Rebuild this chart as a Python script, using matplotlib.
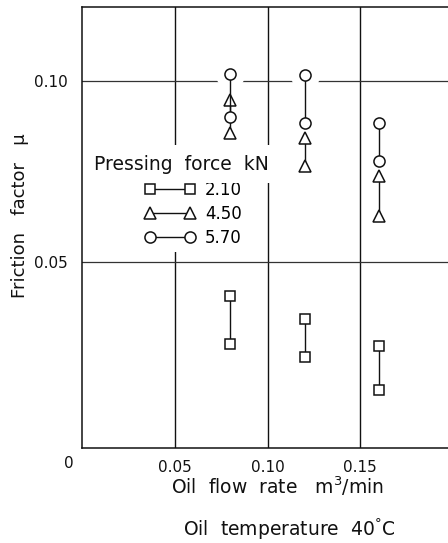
import matplotlib
matplotlib.use("Agg")
import matplotlib.pyplot as plt
from matplotlib.transforms import offset_copy

# Oil flow rate (m^3/min) at which each pair of measurements was taken
flow_rate = [0.08, 0.12, 0.16]

# Pressing force levels (kN) and their marker shapes
forces = ["2.10", "4.50", "5.70"]
markers = ["s", "^", "o"]
marker_sizes = [6.5, 8.5, 8.0]

# Friction factor range (upper / lower value) per flow rate
mu_high = {
    "2.10": [0.0407, 0.0343, 0.0269],
    "4.50": [0.0949, 0.0843, 0.0737],
    "5.70": [0.1020, 0.1016, 0.0885],
}
mu_low = {
    "2.10": [0.0274, 0.0238, 0.0148],
    "4.50": [0.0856, 0.0765, 0.0627],
    "5.70": [0.0901, 0.0885, 0.0778],
}

x_ticks = [0.05, 0.10, 0.15]
x_tick_labels = ["0.05", "0.10", "0.15"]
y_ticks = [0.05, 0.10]
y_tick_labels = ["0.05", "0.10"]

W, H, DPI = 448, 543, 100
fig = plt.figure(figsize=(W / DPI, H / DPI), dpi=DPI)
plt.rcParams["font.family"] = ["DejaVu Sans"]

ink = "#111111"
fs = 11

# axes box in pixels: left 82, right 453 (past the page edge), top 6.5, bottom 447.5
ax = fig.add_axes([82 / W, 1 - 447.5 / H, (453 - 82) / W, (447.5 - 6.5) / H])
ax.set_xlim(0, 0.2)
ax.set_ylim(-0.0012, 0.1206)

for side in ["left", "bottom", "top", "right"]:
    ax.spines[side].set_color(ink)
    ax.spines[side].set_linewidth(1.1)

ax.set_xticks(x_ticks)
ax.set_xticklabels(x_tick_labels, fontsize=fs, color=ink)
ax.set_yticks(y_ticks)
ax.set_yticklabels(y_tick_labels, fontsize=fs, color=ink)
ax.tick_params(axis="both", length=0)
ax.tick_params(axis="x", pad=9)
ax.tick_params(axis="y", pad=10)

# origin label sits left of the corner
ax.text(0, 0, "0", fontsize=fs, color=ink, ha="center", va="top",
        transform=offset_copy(ax.get_xaxis_transform(), fig=fig, x=-13, y=-9, units="dots"))

# grid lines
for xv in x_ticks:
    ax.axvline(xv, color=ink, lw=1.0, zorder=1)
for yv in y_ticks:
    ax.axhline(yv, color="#333333", lw=0.9, zorder=1)

handles = []
for f, m, ms in zip(forces, markers, marker_sizes):
    for i, xv in enumerate(flow_rate):
        ys = [mu_low[f][i], mu_high[f][i]]
        # white halo clears the grid around each point
        ax.plot([xv, xv], ys, ls="none", marker="o", ms=21, mfc="white",
                mec="none", zorder=2)
    for i, xv in enumerate(flow_rate):
        ys = [mu_low[f][i], mu_high[f][i]]
        ln, = ax.plot([xv, xv], ys, color=ink, lw=1.0, marker=m, ms=ms,
                      mfc="white", mec=ink, mew=1.1, zorder=4)
    handles.append(ln)

leg = ax.legend(handles, forces, loc="upper left",
                bbox_to_anchor=((140 - 82) / (453 - 82), 1 - (176 - 6.5) / 441),
                frameon=True, fontsize=12, numpoints=2, handlelength=3.0,
                handletextpad=0.6, labelspacing=0.35, borderpad=0.3,
                borderaxespad=0)
leg.get_frame().set_facecolor("white")
leg.get_frame().set_edgecolor("none")
leg.get_frame().set_alpha(1)
leg.set_zorder(5)

# legend heading, placed in figure pixels with a white backing
fig.text(181 / W, 1 - 164 / H, "Pressing  force  kN", fontsize=13.5,
         color=ink, ha="center", va="center", zorder=6,
         bbox=dict(facecolor="white", edgecolor="none", pad=7))

fig.text(20 / W, 1 - 216 / H, "Friction   factor   \u03bc", rotation=90,
         fontsize=13, color=ink, ha="center", va="center")
fig.text(277 / W, 1 - 486 / H, "Oil  flow  rate   m$^3$/min", fontsize=13.5,
         color=ink, ha="center", va="center")
fig.text(289 / W, 1 - 529 / H, "Oil  temperature  40$^{\\degree}$C", fontsize=13.5,
         color=ink, ha="center", va="center")

fig.savefig("out.png", dpi=DPI, facecolor="white")
